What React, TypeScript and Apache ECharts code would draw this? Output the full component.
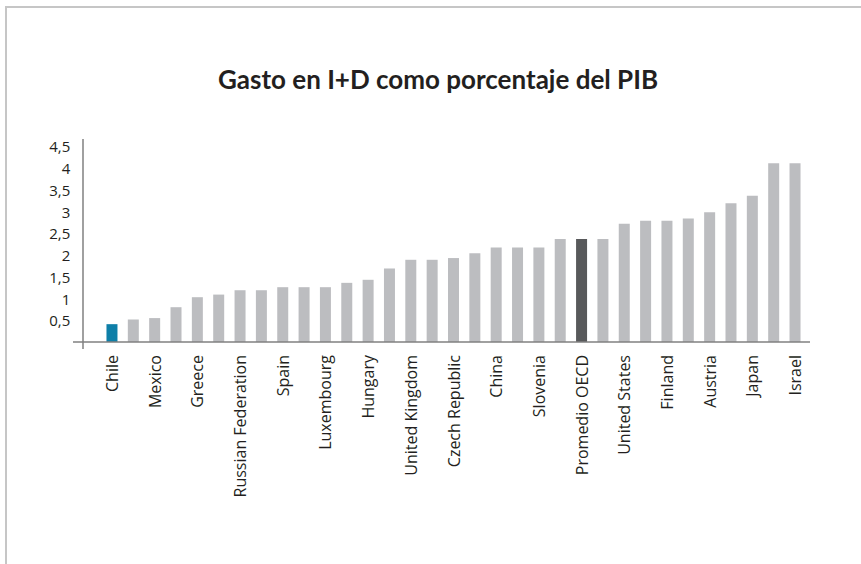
import React, { useEffect, useRef } from "react";
import * as echarts from "echarts";

const title = "Gasto en I+D como porcentaje del PIB";

const categories = [
  "Chile", "Slovak Republic", "Mexico", "Poland", "Greece", "Turkey",
  "Russian Federation", "Italy", "Spain", "Portugal", "Luxembourg", "Ireland",
  "Hungary", "Netherlands", "United Kingdom", "Norway", "Czech Republic", "Estonia",
  "China", "Belgium", "Slovenia", "Canada", "Promedio OECD", "France",
  "United States", "Germany", "Finland", "Iceland", "Austria", "Denmark",
  "Japan", "Korea", "Israel",
];

const values = [
  0.41, 0.52, 0.55, 0.8, 1.03, 1.09,
  1.19, 1.19, 1.26, 1.26, 1.26, 1.36,
  1.43, 1.69, 1.89, 1.89, 1.93, 2.04,
  2.17, 2.17, 2.17, 2.37, 2.37, 2.37,
  2.72, 2.79, 2.79, 2.84, 2.98, 3.19,
  3.36, 4.11, 4.11,
];

const yMin = 0;
const yMax = 4.5;
const yInterval = 0.5;

export default function App() {
  const ref = useRef<HTMLDivElement>(null);

  useEffect(() => {
    document.body.style.margin = "0";
    if (!ref.current) return;
    const chart = echarts.init(ref.current, null, { renderer: "svg" });

    const data = values.map((v, i) => {
      const name = categories[i];
      let color = "#bcbdc0";
      if (name === "Chile") color = "#0e7fa8";
      if (name === "Promedio OECD") color = "#58595b";
      return { value: v, itemStyle: { color } };
    });

    const axisColor = "#808080";

    chart.setOption({
      animation: false,
      backgroundColor: "#ffffff",
      title: {
        text: title,
        left: 433,
        top: 61,
        textAlign: "center",
        textStyle: {
          fontFamily: "Lato",
          fontWeight: "bold",
          fontSize: 26,
          color: "#231f20",
        },
      },
      grid: {
        left: 101.3,
        right: 55.3,
        top: 146.25,
        bottom: 222,
        containLabel: false,
      },
      xAxis: {
        type: "category",
        data: categories,
        axisLine: { show: false },
        axisTick: { show: false },
        axisLabel: {
          interval: 1,
          rotate: 90,
          margin: 13,
          fontFamily: "Open Sans",
          fontSize: 16,
          color: "#231f20",
        },
      },
      yAxis: {
        type: "value",
        min: yMin,
        max: yMax,
        interval: yInterval,
        offset: 18,
        axisLine: { show: false },
        axisTick: { show: false },
        splitLine: { show: false },
        axisLabel: {
          margin: 13,
          fontFamily: "Open Sans",
          fontSize: 15,
          color: "#231f20",
          padding: [6, 0, 0, 0],
          formatter: (v: number) => (v === 0 ? "" : String(v).replace(".", ",")),
        },
      },
      series: [
        {
          type: "bar",
          data,
          barWidth: 11,
        },
      ],
      graphic: [
        {
          type: "line",
          shape: { x1: 5, y1: 7, x2: 861, y2: 7 },
          style: { stroke: "#c6c6c6", lineWidth: 2 },
          silent: true,
        },
        {
          type: "line",
          shape: { x1: 6, y1: 6, x2: 6, y2: 564 },
          style: { stroke: "#c6c6c6", lineWidth: 2 },
          silent: true,
        },
        {
          type: "line",
          shape: { x1: 73, y1: 342, x2: 810, y2: 342 },
          style: { stroke: axisColor, lineWidth: 1.5 },
          silent: true,
          z: 10,
        },
        {
          type: "line",
          shape: { x1: 83, y1: 139, x2: 83, y2: 349 },
          style: { stroke: axisColor, lineWidth: 1.5 },
          silent: true,
          z: 10,
        },
      ],
    });

    return () => chart.dispose();
  }, []);

  return <div ref={ref} style={{ width: 861, height: 564 }} />;
}
